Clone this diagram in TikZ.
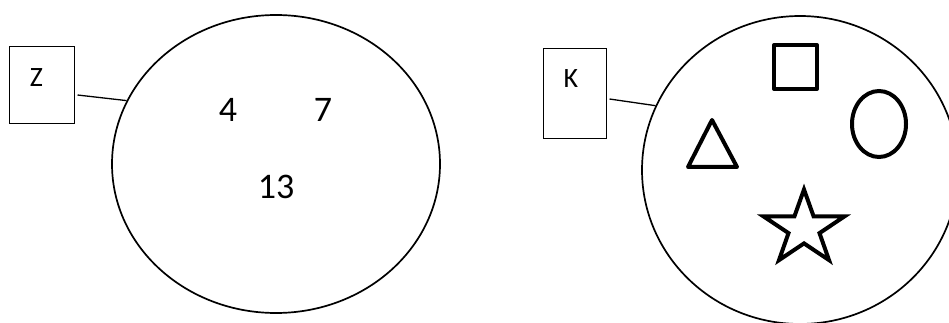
\documentclass[tikz,border=0pt]{standalone}
\usepackage{fontspec}
\setmainfont{Carlito}
\usetikzlibrary{shapes.geometric,calc}
\begin{document}
\begin{tikzpicture}[x=1pt,y=-1pt,
  lbox/.style={draw, line width=1pt, inner sep=0pt},
  setell/.style={draw, ellipse, line width=1.7pt, inner sep=0pt},
  lbl/.style={font=\fontsize{28}{32}\selectfont, inner sep=0pt},
  elem/.style={font=\fontsize{36}{40}\selectfont, inner sep=0pt},
  link/.style={line width=1.3pt},
  fig/.style={line width=4pt}]
\useasboundingbox (0,0) rectangle (949,323);
\clip (0,0) rectangle (949,323);
% left set
\node[lbox, minimum width=65pt, minimum height=77pt] (zbox) at (41.5,85.5) {};
\node[lbl] (zlbl) at (36.5,77.5) {Z};
\node[setell, minimum width=328pt, minimum height=298pt] (zell) at (276,164) {};
\coordinate (zst) at ($(zbox.east)+(3,9.5)$);
\draw[link] (zst) -- (zell.157);
\node[elem] (e4) at (228,110) {4};
\node[elem] (e7) at (323,110) {7};
\node[elem] (e13) at (276,187) {13};
% right set
\node[lbox, minimum width=63pt, minimum height=90pt] (kbox) at (574.5,94) {};
\node[lbl] (klbl) at (571,79) {K};
\node[setell, minimum width=316pt, minimum height=308pt] (kell) at (800,170) {};
\coordinate (kst) at ($(kbox.east)+(3,5)$);
\draw[link] (kst) -- (kell.156);
% figures
\draw[fig, line join=round] (774,45) rectangle (817,89);
\draw[fig] (879,124) ellipse [x radius=27, y radius=33];
\draw[fig, line join=round] (712,120) -- (737,167) -- (688,167) -- cycle;
\draw[fig, line join=miter] (804,189.5) -- (813.6,216.4) -- (844.5,216.4) -- (819.5,233.1)
  -- (829.0,260.1) -- (804,243.4) -- (779.0,260.1) -- (788.5,233.1) -- (763.5,216.4)
  -- (794.4,216.4) -- cycle;
\end{tikzpicture}
\end{document}
